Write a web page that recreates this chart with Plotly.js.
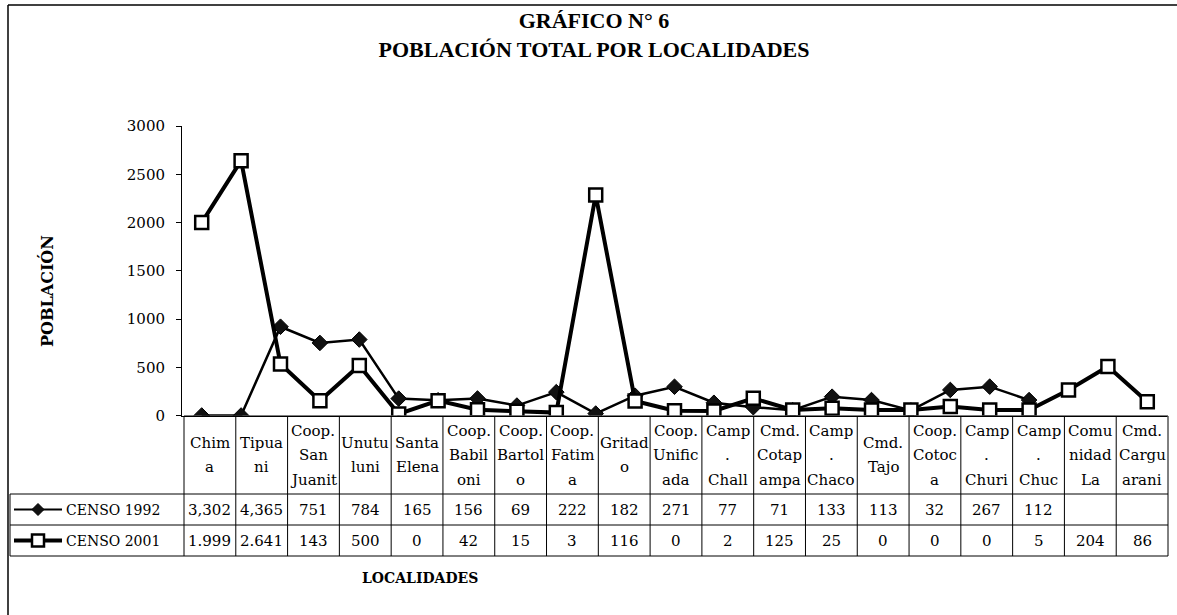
<!DOCTYPE html>
<html>
<head>
<meta charset="utf-8">
<script src="https://cdn.plot.ly/plotly-3.0.1.min.js"></script>
<style>html,body{margin:0;padding:0;background:#fff;}#chart{width:1177px;height:615px;}</style>
</head>
<body>
<div id="chart"></div>
<script>
// ---- data ----
// plotted points (25 positions along the x axis)
const puntos = [0,1,2,3,4,5,6,7,8,9,10,11,12,13,14,15,16,17,18,19,20,21,22,23,24];
const linea1992 = [0,0,920,752,787,175,158,176,103,242,20,205,298,132,86,55,195,160,52,265,299,160];
const linea2001 = [1999,2641,533,152,518,16,154,60,45,30,2285,150,50,47,178,57,74,57,57,92,57,57,265,507,143];

// data table under the chart
const localidades = [
  ["Chim","a"],["Tipua","ni"],["Coop.","San","Juanit"],["Unutu","luni"],["Santa","Elena"],
  ["Coop.","Babil","oni"],["Coop.","Bartol","o"],["Coop.","Fatim","a"],["Gritad","o"],
  ["Coop.","Unific","ada"],["Camp",".","Chall"],["Cmd.","Cotap","ampa"],["Camp",".","Chaco"],
  ["Cmd.","Tajo"],["Coop.","Cotoc","a"],["Camp",".","Churi"],["Camp",".","Chuc"],
  ["Comu","nidad","La"],["Cmd.","Cargu","arani"]
];
const censo1992 = ["3,302","4,365","751","784","165","156","69","222","182","271","77","71","133","113","32","267","112","",""];
const censo2001 = ["1.999","2.641","143","500","0","42","15","3","116","0","2","125","25","0","0","0","5","204","86"];
const series = ["CENSO 1992","CENSO 2001"];
const yTicks = [0,500,1000,1500,2000,2500,3000];

// ---- layout helpers (pixel -> paper) ----
const W = 1177, H = 615;
const px = x => x / W;
const py = y => 1 - y / H;
const serif = "DejaVu Serif";

const plotL = 182, plotR = 1167, plotT = 126, plotB = 415.5;
const tabL = 184, tabR = 1168, colW = (tabR - tabL) / localidades.length;
const hdrT = 416, hdrB = 494, r1B = 525, r2B = 556, legL = 10;

const traces = [
  {x: puntos.slice(0, linea1992.length), y: linea1992, type: "scatter", mode: "lines+markers", name: series[0],
   line: {color: "#000", width: 2.5}, marker: {symbol: "diamond", size: 12, color: "#111", line: {color: "#000", width: 1}}, showlegend: false},
  {x: puntos, y: linea2001, type: "scatter", mode: "lines+markers", name: series[1],
   line: {color: "#000", width: 4}, marker: {symbol: "square", size: 13, color: "#fff", line: {color: "#000", width: 2.5}}, showlegend: false}
];

const shapes = [];
const annotations = [];
const L = (x0, y0, x1, y1, w) => shapes.push({type: "line", xref: "paper", yref: "paper", x0: px(x0), y0: py(y0), x1: px(x1), y1: py(y1), line: {color: "#000", width: w || 1}});

// chart border
L(8, 5, 1177, 5, 1.5);
L(8, 5, 8, 615, 1.5);

// table grid
L(tabL, hdrT, tabR, hdrT, 1);
L(legL, hdrB, tabR, hdrB, 1);
L(legL, r1B, tabR, r1B, 1);
L(legL, r2B, tabR, r2B, 1);
L(legL, hdrB, legL, r2B, 1);
for (let k = 0; k <= localidades.length; k++) {
  L(tabL + k * colW, hdrT, tabL + k * colW, r2B, 1);
}

// header labels
const hdrMid = (hdrT + hdrB) / 2, lineGap = 24.5;
localidades.forEach((lines, i) => {
  const cx = tabL + (i + 0.5) * colW;
  lines.forEach((t, j) => {
    const y = hdrMid + (j - (lines.length - 1) / 2) * lineGap;
    annotations.push({xref: "paper", yref: "paper", x: px(cx), y: py(y), xanchor: "center", yanchor: "middle",
      text: t, showarrow: false, font: {family: serif, size: 15, color: "#000"}});
  });
});

// values
[censo1992, censo2001].forEach((row, r) => {
  const y = r === 0 ? (hdrB + r1B) / 2 : (r1B + r2B) / 2;
  row.forEach((v, i) => {
    if (v === "") return;
    annotations.push({xref: "paper", yref: "paper", x: px(tabL + (i + 0.5) * colW), y: py(y), xanchor: "center", yanchor: "middle",
      text: v, showarrow: false, font: {family: serif, size: 15, color: "#000"}});
  });
  // legend key in row header
  L(14, y, 62, y, r === 0 ? 2 : 4);
  const cx = 38, s = 6;
  if (r === 0) {
    shapes.push({type: "path", xref: "paper", yref: "paper",
      path: `M ${px(cx - s)} ${py(y)} L ${px(cx)} ${py(y - s)} L ${px(cx + s)} ${py(y)} L ${px(cx)} ${py(y + s)} Z`,
      fillcolor: "#111", line: {color: "#000", width: 1}});
  } else {
    shapes.push({type: "rect", xref: "paper", yref: "paper", x0: px(cx - s), x1: px(cx + s), y0: py(y - s), y1: py(y + s),
      fillcolor: "#fff", line: {color: "#000", width: 2.5}});
  }
  annotations.push({xref: "paper", yref: "paper", x: px(64), y: py(y), xanchor: "left", yanchor: "middle",
    text: series[r], showarrow: false, font: {family: serif, size: 14, color: "#000"}});
});

// axis titles
annotations.push({xref: "paper", yref: "paper", x: px(420), y: py(578), xanchor: "center", yanchor: "middle",
  text: "<b>LOCALIDADES</b>", showarrow: false, font: {family: serif, size: 14, color: "#000"}});
annotations.push({xref: "paper", yref: "paper", x: px(47), y: py(291), xanchor: "center", yanchor: "middle", textangle: -90,
  text: "<b>POBLACIÓN</b>", showarrow: false, font: {family: serif, size: 16, color: "#000"}});

const layout = {
  width: W, height: H,
  margin: {l: 0, r: 0, t: 0, b: 0},
  paper_bgcolor: "#fff", plot_bgcolor: "#fff",
  title: {text: "<b>GRÁFICO N° 6</b><br><b>POBLACIÓN TOTAL POR LOCALIDADES</b>",
    x: px(594), xanchor: "center", y: py(28), yanchor: "middle", xref: "paper", yref: "paper",
    font: {family: "Liberation Serif", size: 22, color: "#000"}},
  xaxis: {domain: [px(plotL), px(plotR)], range: [-0.5, 24.5], showticklabels: false, ticks: "",
    showline: true, linecolor: "#000", linewidth: 1, showgrid: false, zeroline: false, fixedrange: true},
  yaxis: {domain: [py(plotB), py(plotT)], range: [0, 3000], tickvals: yTicks, ticks: "outside", ticklen: 5,
    tickcolor: "#000", showline: true, linecolor: "#000", linewidth: 1, showgrid: false, zeroline: false,
    tickfont: {family: serif, size: 15, color: "#000"}, ticklabelstandoff: 8,
    title: {text: ""}, fixedrange: true},
  shapes: shapes,
  annotations: annotations,
  showlegend: false
};

Plotly.newPlot("chart", traces, layout, {displayModeBar: false, staticPlot: true});
</script>
</body>
</html>
